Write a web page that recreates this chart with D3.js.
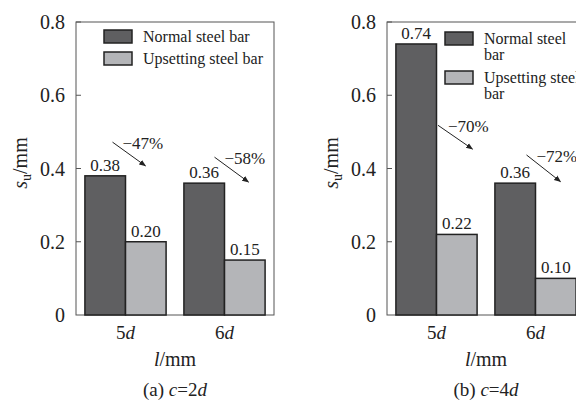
<!DOCTYPE html>
<html>
<head>
<meta charset="utf-8">
<script src="https://cdn.jsdelivr.net/npm/d3@7"></script>
<style>
	html, body { margin: 0; padding: 0; background: #fff; }
	svg { display: block; }
</style>
</head>
<body>
<div id="chart"></div>
<script>
// data
var categories = ["5d", "6d"];
var seriesNames = ["Normal steel bar", "Upsetting steel bar"];
var normalA = [0.38, 0.36];
var upsetA = [0.20, 0.15];
var normalB = [0.74, 0.36];
var upsetB = [0.22, 0.10];
var changeA = ["−47%", "−58%"];
var changeB = ["−70%", "−72%"];
var yTicks = [0, 0.2, 0.4, 0.6, 0.8];

var W = 576, H = 402;
var colors = ["#5f5f61", "#b4b5b8"];
var serif = "'Liberation Serif', 'Times New Roman', Times, 'DejaVu Serif', serif";

var svg = d3.select("#chart").append("svg")
	.attr("width", W)
	.attr("height", H)
	.attr("font-family", serif);

// arrowhead
svg.append("defs").append("marker")
	.attr("id", "head")
	.attr("viewBox", "0 0 10 10")
	.attr("refX", 9)
	.attr("refY", 5)
	.attr("markerWidth", 7)
	.attr("markerHeight", 7)
	.attr("markerUnits", "userSpaceOnUse")
	.attr("orient", "auto")
	.append("path")
	.attr("d", "M0,1 L10,5 L0,9 Z")
	.attr("fill", "#222");

var y = d3.scaleLinear().domain([0, 0.8]).range([315, 22]);

/**
 * draws one panel
 */
function panel(opts) {
	var left = opts.left, right = left + 198;
	var g = svg.append("g").attr("font-family", serif);
	var x = d3.scaleBand()
		.domain(categories)
		.range([left, right])
		.paddingInner(0.18)
		.paddingOuter(0.09);
	var bw = x.bandwidth() / 2;

	// frame
	g.append("rect")
		.attr("x", left)
		.attr("y", y(0.8))
		.attr("width", right - left)
		.attr("height", y(0) - y(0.8))
		.attr("fill", "none")
		.attr("stroke", "#555")
		.attr("stroke-width", 1);

	// y ticks (inward) and labels
	g.selectAll(".yt").data(yTicks.slice(1)).enter().append("line")
		.attr("x1", left).attr("x2", left + 5)
		.attr("y1", d => y(d)).attr("y2", d => y(d))
		.attr("stroke", "#555");
	g.selectAll(".yl").data(yTicks).enter().append("text")
		.attr("x", left - 11)
		.attr("y", d => y(d) + 7)
		.attr("text-anchor", "end")
		.attr("font-size", 20)
		.attr("fill", "#222")
		.text(d => d === 0 ? "0" : d.toFixed(1));

	// bars
	var series = [opts.normal, opts.upset];
	series.forEach(function (vals, si) {
		g.selectAll(".b" + si).data(vals).enter().append("rect")
			.attr("x", (d, i) => x(categories[i]) + si * bw)
			.attr("y", d => y(d))
			.attr("width", bw)
			.attr("height", d => y(0) - y(d))
			.attr("fill", colors[si])
			.attr("stroke", "#222")
			.attr("stroke-width", 1.5);
		g.selectAll(".v" + si).data(vals).enter().append("text")
			.attr("x", (d, i) => x(categories[i]) + si * bw + bw / 2)
			.attr("y", d => y(d) - 5)
			.attr("text-anchor", "middle")
			.attr("font-size", 17)
			.attr("fill", "#222")
			.text(d => d.toFixed(2));
	});

	// change annotations
	opts.changes.forEach(function (t, i) {
		var a = opts.arrows[i];
		var cx = x(categories[i]) + bw;
		var x1 = cx + a[0], y1 = y(a[1]), x2 = cx + a[2], y2 = y(a[3]);
		g.append("line")
			.attr("x1", x1).attr("y1", y1)
			.attr("x2", x2).attr("y2", y2)
			.attr("stroke", "#222")
			.attr("stroke-width", 1)
			.attr("marker-end", "url(#head)");
		g.append("text")
			.attr("x", x1 + 10)
			.attr("y", y1 + 7)
			.attr("font-size", 17)
			.attr("fill", "#222")
			.text(t);
	});

	// x labels
	g.selectAll(".xl").data(categories).enter().append("text")
		.attr("x", d => x(d) + bw)
		.attr("y", 339)
		.attr("text-anchor", "middle")
		.attr("font-size", 19)
		.attr("fill", "#222")
		.each(function (d) {
			var s = d3.select(this);
			s.append("tspan").text(d.slice(0, 1));
			s.append("tspan").attr("font-style", "italic").text(d.slice(1));
		});

	var mid = (left + right) / 2;
	var xt = g.append("text")
		.attr("x", mid).attr("y", 366)
		.attr("text-anchor", "middle")
		.attr("font-size", 20)
		.attr("fill", "#222");
	xt.append("tspan").attr("font-style", "italic").text("l");
	xt.append("tspan").text("/mm");

	var cap = g.append("text")
		.attr("x", mid).attr("y", 396)
		.attr("text-anchor", "middle")
		.attr("font-size", 19)
		.attr("fill", "#222");
	cap.append("tspan").text(opts.caption[0] + " ");
	cap.append("tspan").attr("font-style", "italic").text("c");
	cap.append("tspan").text(opts.caption[1]);
	cap.append("tspan").attr("font-style", "italic").text("d");

	// y title
	var yt = g.append("text")
		.attr("transform", "translate(" + (left - 49) + "," + 163 + ") rotate(-90)")
		.attr("text-anchor", "middle")
		.attr("font-size", 20)
		.attr("fill", "#222");
	yt.append("tspan").attr("font-style", "italic").text("s");
	yt.append("tspan").attr("font-size", 14).attr("dy", 4).text("u");
	yt.append("tspan").attr("dy", -4).text("/mm");

	// legend
	opts.legend.forEach(function (lines, i) {
		var ly = opts.legendY[i];
		g.append("rect")
			.attr("x", left + opts.legendX)
			.attr("y", ly)
			.attr("width", 28)
			.attr("height", 13)
			.attr("fill", colors[i])
			.attr("stroke", "#222")
			.attr("stroke-width", 1.5);
		lines.forEach(function (l, k) {
			g.append("text")
				.attr("x", left + opts.legendX + 39)
				.attr("y", ly + 12 + k * 15.5)
				.attr("font-size", 16)
				.attr("fill", "#222")
				.text(l);
		});
	});
}

panel({
	left: 76,
	normal: normalA,
	upset: upsetA,
	changes: changeA,
	arrows: [[-13, 0.472, 20, 0.407], [-10, 0.431, 24, 0.363]],
	caption: ["(a)", "=2"],
	legend: [[seriesNames[0]], [seriesNames[1]]],
	legendX: 28,
	legendY: [30, 52]
});

panel({
	left: 387,
	normal: normalB,
	upset: upsetB,
	changes: changeB,
	arrows: [[1.5, 0.518, 36, 0.453], [-9, 0.437, 25, 0.364]],
	caption: ["(b)", "=4"],
	legend: [["Normal steel", "bar"], ["Upsetting steel", "bar"]],
	legendX: 58,
	legendY: [32, 71]
});
</script>
</body>
</html>
